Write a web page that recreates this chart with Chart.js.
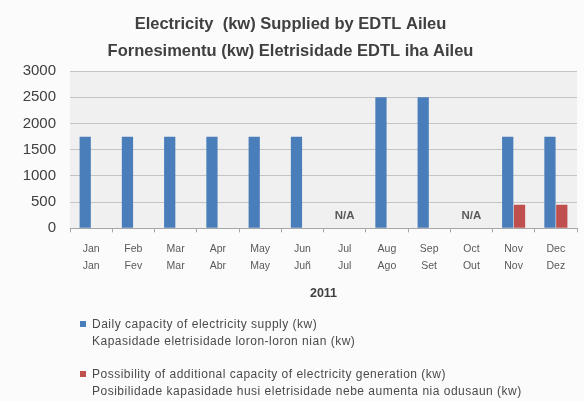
<!DOCTYPE html>
<html>
<head>
<meta charset="utf-8">
<script src="https://cdn.jsdelivr.net/npm/chart.js@4/dist/chart.umd.min.js"></script>
<style>
  html, body { margin: 0; padding: 0; background: #fbfbfb; }
  #wrap { position: relative; width: 584px; height: 401px; }
  canvas { position: absolute; left: 0; top: 0; }
  .leg { position: absolute; left: 80px; font-family: "Liberation Sans", Arial, sans-serif; font-size: 12px; letter-spacing: 0.5px; color: #4a4a4a; line-height: 17px; }
  .leg .box { position: absolute; left: 0; top: 5px; width: 6px; height: 6px; }
  .leg .txt { margin-left: 12px; white-space: nowrap; }
</style>
</head>
<body>
<div id="wrap">
  <canvas id="c" width="584" height="401"></canvas>
  <div class="leg" id="leg1" style="top:316px"><div class="box" style="background:#4a7ebb"></div><div class="txt" id="l1"></div></div>
  <div class="leg" id="leg2" style="top:366px"><div class="box" style="background:#c0504d"></div><div class="txt" id="l2"></div></div>
</div>
<script>
const titleLines = ["Electricity  (kw) Supplied by EDTL Aileu", "Fornesimentu (kw) Eletrisidade EDTL iha Aileu"];
const monthsEn = ["Jan","Feb","Mar","Apr","May","Jun","Jul","Aug","Sep","Oct","Nov","Dec"];
const monthsTet = ["Jan","Fev","Mar","Abr","May","Juñ","Jul","Ago","Set","Out","Nov","Dez"];
const supply = [1750,1750,1750,1750,1750,1750,null,2500,2500,null,1750,1750];
const additional = [null,null,null,null,null,null,null,null,null,null,450,450];
const naMarks = [null,null,null,null,null,null,"N/A",null,null,"N/A",null,null];
const yTicks = [0,500,1000,1500,2000,2500,3000];
const xTitle = "2011";
const series1Label = ["Daily capacity of electricity supply (kw)", "Kapasidade eletrisidade loron-loron  nian (kw)"];
const series2Label = ["Possibility of additional capacity of electricity generation (kw)", "Posibilidade  kapasidade husi eletrisidade nebe aumenta nia odusaun (kw)"];

document.getElementById('l1').innerHTML = series1Label.join('<br>');
document.getElementById('l2').innerHTML = series2Label.join('<br>');

const labels = monthsEn.map((m, i) => [m, monthsTet[i]]);
const FONT = '"Liberation Sans", Arial, sans-serif';

const plotBg = {
  id: 'plotBg',
  beforeDraw(chart) {
    const {ctx, chartArea: a} = chart;
    ctx.save();
    ctx.fillStyle = '#f0f0f0';
    ctx.fillRect(a.left, a.top, a.right - a.left, a.bottom - a.top);
    ctx.restore();
  }
};
const naPlugin = {
  id: 'naPlugin',
  afterDatasetsDraw(chart) {
    const {ctx, scales: {x, y}} = chart;
    ctx.save();
    ctx.font = 'bold 11.5px ' + FONT;
    ctx.fillStyle = '#595959';
    ctx.textAlign = 'center';
    ctx.textBaseline = 'middle';
    naMarks.forEach((t, i) => {
      if (t) ctx.fillText(t, x.getPixelForValue(i), y.getPixelForValue(0) - 13);
    });
    ctx.restore();
  }
};

new Chart(document.getElementById('c'), {
  type: 'bar',
  data: {
    labels,
    datasets: [
      { label: series1Label.join(' '), data: supply, backgroundColor: '#4a7ebb', categoryPercentage: 0.56, barPercentage: 0.95 },
      { label: series2Label.join(' '), data: additional, backgroundColor: '#c0504d', categoryPercentage: 0.56, barPercentage: 0.95 }
    ]
  },
  options: {
    responsive: false,
    animation: false,
    layout: { padding: { left: 4, right: 7, top: 0, bottom: 96 } },
    plugins: {
      legend: { display: false },
      tooltip: { enabled: false },
      title: {
        display: true,
        text: titleLines,
        color: '#404040',
        font: { family: FONT, size: 16.5, weight: 'bold', lineHeight: 1.64 },
        padding: { top: 11, bottom: 6 }
      }
    },
    scales: {
      x: {
        grid: { display: true, drawOnChartArea: false, drawTicks: true, tickLength: 4, color: '#a6a6a6', offset: true },
        border: { color: '#a6a6a6' },
        ticks: { color: '#595959', font: { family: FONT, size: 10.5, lineHeight: 1.65 }, maxRotation: 0, autoSkip: false, padding: 8 },
        title: { display: true, text: xTitle, color: '#404040', font: { family: FONT, size: 12.5, weight: 'bold' }, padding: { top: 3 } }
      },
      y: {
        min: 0, max: 3000,
        afterBuildTicks(axis) { axis.ticks = yTicks.map(v => ({ value: v })); },
        afterFit(axis) { axis.width = 66; },
        grid: { color: '#c4c4c4', drawTicks: false },
        border: { display: false },
        ticks: { color: '#404040', font: { family: FONT, size: 15 }, padding: 14, callback: v => String(v) }
      }
    }
  },
  plugins: [plotBg, naPlugin]
});
</script>
</body>
</html>
